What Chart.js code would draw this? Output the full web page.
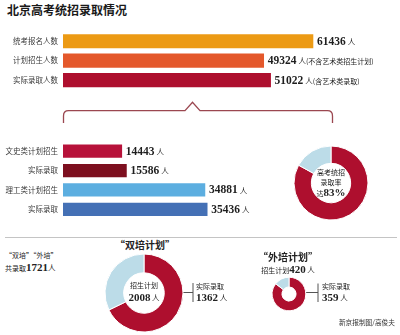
<!DOCTYPE html>
<html><head><meta charset="utf-8">
<script src="https://cdn.jsdelivr.net/npm/chart.js@4"></script>
<style>
html,body{margin:0;padding:0;background:#fff;}
#wrap{position:relative;width:400px;height:335px;overflow:hidden;background:#fff;font-family:"Noto Sans CJK SC",sans-serif;color:#222;}
.box{position:absolute;}
.t{position:absolute;white-space:nowrap;line-height:1;}
.n{font-family:"Liberation Serif",serif;font-weight:bold;}
.c{transform:translateX(-50%);}
.r{transform:translateX(-100%);}
</style></head>
<body><div id="wrap">
<svg class="box" style="left:0;top:0" width="400" height="335">
  <path d="M63.5 123 L63.5 116 Q63.5 110.7 68.5 110.7 L185 110.7 L192.5 102.2 L200 110.7 L327.5 110.7 Q332.5 110.7 332.5 116 L332.5 123" fill="none" stroke="#9b4750" stroke-width="1.3"/>
  <line x1="5" y1="237.5" x2="397" y2="237.5" stroke="#c4c4c4" stroke-width="1"/>
  <path d="M183 292.5 H193 M193 283 V302" stroke="#555" stroke-width="1" fill="none"/>
  <path d="M306 292.5 H318 M318 283.5 V302" stroke="#555" stroke-width="1" fill="none"/>
</svg>
<div class="t" style="left:7px;top:4px;font-size:12px;font-weight:bold;color:#1a1a1a">北京高考统招录取情况</div>

<div class="box" style="left:0;top:21.6px;width:400px;height:77.3px"><canvas id="topBars"></canvas></div>
<div class="box" style="left:0;top:131.7px;width:400px;height:96.5px"><canvas id="subBars"></canvas></div>
<div class="box" style="left:291px;top:143px;width:80px;height:80px"><canvas id="rateDonut"></canvas></div>
<div class="box" style="left:104px;top:253px;width:80px;height:80px"><canvas id="shuangDonut"></canvas></div>
<div class="box" style="left:269px;top:273.5px;width:40px;height:40px"><canvas id="waiDonut"></canvas></div>

<div class="t c" style="left:331px;top:169px;font-size:7px">高考统招</div>
<div class="t c" style="left:331px;top:178.5px;font-size:7px">录取率</div>
<div class="t c" style="left:331px;top:186.5px;font-size:7px">达<span class="n" style="font-size:11px">83%</span></div>

<div class="t" style="left:5px;top:251.5px;font-size:7px">“双培”“外培”</div>
<div class="t" style="left:5px;top:262px;font-size:7px">共录取<span class="n" style="font-size:11px">1721</span><span style="font-size:7.5px">人</span></div>

<div class="t c" style="left:145px;top:240px;font-size:10px;font-weight:bold">“双培计划”</div>
<div class="t c" style="left:144px;top:281.5px;font-size:7px">招生计划</div>
<div class="t c" style="left:144px;top:291.5px;font-size:7.5px"><span class="n" style="font-size:11px">2008</span> 人</div>
<div class="t" style="left:196px;top:282.5px;font-size:7px">实际录取</div>
<div class="t" style="left:196px;top:291.5px;font-size:7.5px"><span class="n" style="font-size:11px">1362</span> 人</div>

<div class="t c" style="left:288px;top:252px;font-size:10px;font-weight:bold">“外培计划”</div>
<div class="t c" style="left:288px;top:264px;font-size:7px">招生计划<span class="n" style="font-size:11px">420</span> <span style="font-size:7.5px">人</span></div>
<div class="t" style="left:322px;top:282.5px;font-size:7px">实际录取</div>
<div class="t" style="left:322px;top:291.5px;font-size:7.5px"><span class="n" style="font-size:11px">359</span> 人</div>

<div class="t r" style="left:395px;top:319px;font-size:6.7px;color:#333">新京报制图/高俊夫</div>
</div>
<script>
// ---- data ----
const topLabels = ['统考报名人数', '计划招生人数', '实际录取人数'];
const topValues = [61436, 49324, 51022];
const topNotes = ['', '(不含艺术类招生计划)', '(含艺术类录取)'];
const subLabels = ['文史类计划招生', '实际录取', '理工类计划招生', '实际录取'];
const subValues = [14443, 15586, 34881, 35436];
const rateLabels = ['录取', '未录取'];
const rateValues = [83, 17];
const shuangLabels = ['实际录取', '未录取'];
const shuangValues = [1362, 646];
const waiLabels = ['实际录取', '未录取'];
const waiValues = [359, 61];

// ---- styles ----
const topColors = ['#ec9a14', '#e4582b', '#ae0f2e'];
const subColors = ['#b7123a', '#7d0f1f', '#5caee0', '#4470b5'];
const RED = '#ae0f2e', LIGHT = '#bcdce8';

const valueLabels = {
  id: 'valueLabels',
  afterDatasetsDraw(chart, args, opts) {
    const ctx = chart.ctx;
    const meta = chart.getDatasetMeta(0);
    const data = chart.data.datasets[0].data;
    meta.data.forEach((bar, i) => {
      let x = bar.x + 4;
      const y = bar.y + 0.5;
      ctx.save();
      ctx.fillStyle = '#1e1e1e';
      ctx.textBaseline = 'middle';
      ctx.textAlign = 'left';
      ctx.font = 'bold ' + opts.size + 'px "Liberation Serif"';
      const s = String(data[i]);
      ctx.fillText(s, x, y);
      x += ctx.measureText(s).width + 2;
      ctx.font = '7.5px "Noto Sans CJK SC"';
      ctx.fillText('人', x, y + 0.5);
      x += ctx.measureText('人').width;
      if (opts.notes && opts.notes[i]) {
        ctx.font = '7px "Noto Sans CJK SC"';
        ctx.fillText(opts.notes[i], x, y + 0.5);
      }
      ctx.restore();
    });
  }
};

function barChart(id, labels, values, colors, notes, thick) {
  return new Chart(document.getElementById(id), {
    type: 'bar',
    data: { labels: labels, datasets: [{ data: values, backgroundColor: colors, borderWidth: 0, barThickness: thick }] },
    options: {
      indexAxis: 'y', responsive: true, maintainAspectRatio: false, animation: false,
      layout: { padding: { left: 0, right: 11.5, top: 0, bottom: 0 } },
      plugins: { legend: { display: false }, tooltip: { enabled: false }, valueLabels: { size: 11.5, notes: notes } },
      scales: {
        x: { type: 'linear', min: 0, max: 80000, display: false },
        y: {
          grid: { display: false, drawTicks: false }, border: { display: false },
          ticks: { padding: 5, color: '#3a3a3a', font: { family: '"Noto Sans CJK SC"', size: 7.5 } },
          afterFit(scale) { scale.width = 63; }
        }
      }
    },
    plugins: [valueLabels]
  });
}
barChart('topBars', topLabels, topValues, topColors, topNotes, 13.5);
barChart('subBars', subLabels, subValues, subColors, null, 12.5);

function donut(id, labels, values, radius, cutout) {
  return new Chart(document.getElementById(id), {
    type: 'doughnut',
    data: { labels: labels, datasets: [{ data: values, backgroundColor: [RED, LIGHT], borderColor: '#fff', borderWidth: 1 }] },
    options: {
      responsive: true, maintainAspectRatio: false, animation: false,
      radius: radius, cutout: cutout,
      plugins: { legend: { display: false }, tooltip: { enabled: false } }
    }
  });
}
donut('rateDonut', rateLabels, rateValues, 37, 21);
donut('shuangDonut', shuangLabels, shuangValues, 39, 20.5);
donut('waiDonut', waiLabels, waiValues, 16.8, 8.2);
</script>
</body></html>
